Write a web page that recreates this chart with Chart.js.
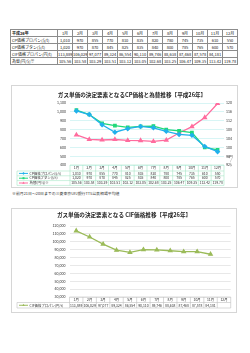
<!DOCTYPE html>
<html lang="ja">
<head>
<meta charset="UTF-8" />
<title>ガス単価の決定要素</title>
<style>
  body { margin: 0; width: 250px; height: 353px; background: #fff; position: relative; overflow: hidden; font-family: "Noto Sans CJK JP", sans-serif; }
  #top-table { position: absolute; left: 10px; top: 29px; width: 228px; border-collapse: collapse; table-layout: fixed; font-size: 4px; line-height: 4px; }
  #top-table td { border: 0.6px solid #8c8c8c; height: 6px; padding: 0; text-align: center; color: #222; white-space: nowrap; overflow: hidden; }
  #top-table td.lbl { text-align: left; padding-left: 1px; }
  #top-table td.head { font-weight: bold; }
  .box { position: absolute; border: 1px solid #d6d6d6; background: #fff; }
  .box canvas { position: absolute; left: 0; top: 0; }
  #note { position: absolute; left: 12px; top: 191px; font-size: 3.9px; line-height: 4px; color: #333; white-space: nowrap; }
</style>
</head>
<body>

<table id="top-table">
  <colgroup><col style="width:47px"></colgroup>
  <tbody></tbody>
</table>

<div class="box" style="left:11px; top:85px; width:225px; height:101px;">
  <canvas id="chart1" width="225" height="101"></canvas>
</div>
<div id="note">※前月21日～20日までの三菱東京UFJ銀行TTS公表相場平均値</div>
<div class="box" style="left:11px; top:208px; width:224px; height:103px;">
  <canvas id="chart2" width="224" height="103"></canvas>
</div>

<script src="https://cdn.jsdelivr.net/npm/chart.js"></script>
<script>
  // データ（平成26年）
  const months = ["1月", "2月", "3月", "4月", "5月", "6月", "7月", "8月", "9月", "10月", "11月", "12月"];
  const cpPropane = [1010, 970, 855, 770, 810, 835, 820, 780, 745, 735, 610, 550];
  const cpButane = [1020, 970, 870, 845, 825, 835, 840, 800, 785, 765, 600, 570];
  const exchangeRate = [105.56, 103.58, 103.29, 103.51, 103.12, 103.05, 102.68, 103.25, 106.47, 109.35, 113.42, 119.78];
  const cifPropane = [113889, 106029, 97077, 89324, 86554, 90110, 89746, 88638, 87468, 87578, 84181, null];

  const fmtInt = v => v == null ? "" : v.toLocaleString("en-US");
  const fmtRate = v => v == null ? "" : v.toFixed(2);

  // 上の表
  const topRows = [
    ["CP価格プロパン($/t)", cpPropane, fmtInt],
    ["CP価格ブタン($/t)", cpButane, fmtInt],
    ["CIF価格プロパン(円/t)", cifPropane, fmtInt],
    ["為替(円/$)※", exchangeRate, fmtRate]
  ];
  const tbody = document.querySelector("#top-table tbody");
  let html = '<tr><td class="lbl head">平成26年</td>' + months.map(m => `<td>${m}</td>`).join("") + "</tr>";
  topRows.forEach(r => {
    html += `<tr><td class="lbl">${r[0]}</td>` + r[1].map(v => `<td>${r[2](v)}</td>`).join("") + "</tr>";
  });
  tbody.innerHTML = html;

  Chart.defaults.font.family = '"Noto Sans CJK JP", sans-serif';
  Chart.defaults.font.size = 3.6;
  Chart.defaults.color = "#333";

  // タイトル
  const boxTitle = {
    id: "boxTitle",
    afterDraw(chart, args, o) {
      const ctx = chart.ctx;
      ctx.save();
      ctx.font = `bold ${o.size}px "Noto Sans CJK JP", sans-serif`;
      ctx.fillStyle = "#222";
      ctx.textAlign = "center";
      ctx.textBaseline = "middle";
      ctx.fillText(o.text, o.x, o.y);
      ctx.restore();
    }
  };

  // Excel風のデータテーブル
  const dataTable = {
    id: "dataTable",
    afterDraw(chart, args, o) {
      const ctx = chart.ctx, xs = chart.scales.x, a = chart.chartArea;
      const w = (a.right - a.left) / months.length;
      const top = a.bottom, hh = o.headerHeight, rh = o.rowHeight;
      const bottom = top + hh + rh * o.rows.length;
      ctx.save();
      ctx.strokeStyle = o.border;
      ctx.lineWidth = 0.6;
      ctx.beginPath();
      ctx.moveTo(a.left, top); ctx.lineTo(a.right, top);
      for (let r = 0; r <= o.rows.length; r++) {
        const y = top + hh + r * rh;
        ctx.moveTo(o.left, y); ctx.lineTo(a.right, y);
      }
      for (let i = 0; i <= months.length; i++) {
        const x = a.left + i * w;
        ctx.moveTo(x, top); ctx.lineTo(x, bottom);
      }
      ctx.moveTo(o.left, top + hh); ctx.lineTo(o.left, bottom);
      ctx.stroke();

      ctx.fillStyle = "#333";
      ctx.textAlign = "center";
      ctx.textBaseline = "middle";
      ctx.font = `${o.fontSize}px "Noto Sans CJK JP", sans-serif`;
      months.forEach((m, i) => ctx.fillText(m, xs.getPixelForValue(i), top + hh / 2));
      o.rows.forEach((row, r) => {
        const cy = top + hh + r * rh + rh / 2;
        row.values.forEach((v, i) => ctx.fillText(row.fmt(v), xs.getPixelForValue(i), cy));
        // 凡例
        ctx.save();
        ctx.strokeStyle = row.color;
        ctx.fillStyle = row.color;
        ctx.lineWidth = 1;
        ctx.beginPath();
        ctx.moveTo(o.left + 2, cy); ctx.lineTo(o.left + 11, cy);
        ctx.stroke();
        Chart.helpers.drawPoint(ctx, { pointStyle: row.pointStyle, radius: 1.4, rotation: 0 }, o.left + 6.5, cy);
        ctx.restore();
        ctx.textAlign = "left";
        ctx.fillText(row.label, o.left + 12.5, cy);
        ctx.textAlign = "center";
      });
      if (o.unit) {
        ctx.textAlign = "center";
        o.unit.text.split("").forEach((ch, i) => ctx.fillText(ch, o.unit.x, o.unit.y + i * 4));
      }
      ctx.restore();
    }
  };

  const propaneColor = "#21b1ec", butaneColor = "#1fd97a", rateColor = "#ff6c9e", cifColor = "#9bbb59";

  // グラフ1: CP価格と為替
  new Chart(document.getElementById("chart1"), {
    type: "line",
    data: {
      labels: months,
      datasets: [
        { label: "CP価格プロパン($/t)", data: cpPropane, yAxisID: "y", borderColor: propaneColor, backgroundColor: propaneColor, pointStyle: "rectRot", pointRadius: 1.8, borderWidth: 1.3 },
        { label: "CP価格ブタン($/t)", data: cpButane, yAxisID: "y", borderColor: butaneColor, backgroundColor: butaneColor, pointStyle: "rect", pointRadius: 1.7, borderWidth: 1.3 },
        { label: "為替(円/$)※", data: exchangeRate, yAxisID: "y2", borderColor: rateColor, backgroundColor: rateColor, pointStyle: "triangle", pointRadius: 1.9, borderWidth: 1.3 }
      ]
    },
    options: {
      responsive: false,
      animation: false,
      devicePixelRatio: 1,
      layout: { padding: { top: 17, left: 0, right: 0, bottom: 0 } },
      plugins: {
        legend: { display: false },
        tooltip: { enabled: false },
        boxTitle: { text: "ガス単価の決定要素となるCP価格と為替推移【平成26年】", x: 120, y: 9, size: 5.6 },
        dataTable: {
          left: 5, headerHeight: 6, rowHeight: 4.8, fontSize: 3.4, border: "#a8e6c8",
          rows: [
            { label: "CP価格プロパン($/t)", values: cpPropane, fmt: fmtInt, color: propaneColor, pointStyle: "rectRot" },
            { label: "CP価格ブタン($/t)", values: cpButane, fmt: fmtInt, color: butaneColor, pointStyle: "rect" },
            { label: "為替(円/$)※", values: exchangeRate, fmt: fmtRate, color: rateColor, pointStyle: "triangle" }
          ],
          unit: { text: "円/$", x: 219, y: 71 }
        }
      },
      scales: {
        x: { offset: true, grid: { display: false }, ticks: { display: false }, border: { display: false }, afterFit(s) { s.height = 22; } },
        y: {
          position: "left", min: 400, max: 1100,
          ticks: { stepSize: 100, padding: 4, callback: v => v.toLocaleString("en-US") },
          grid: { color: "#bdeeee", lineWidth: 0.6, drawTicks: false },
          border: { display: false },
          afterFit(s) { s.width = 58; }
        },
        y2: {
          position: "right", min: 92, max: 120,
          ticks: { stepSize: 2, padding: 2 },
          grid: { display: false, drawTicks: false },
          border: { display: false },
          afterFit(s) { s.width = 13; }
        }
      }
    },
    plugins: [boxTitle, dataTable]
  });

  // グラフ2: CIF価格
  new Chart(document.getElementById("chart2"), {
    type: "line",
    data: {
      labels: months,
      datasets: [
        { label: "CIF価格プロパン(円/t)", data: cifPropane, borderColor: cifColor, backgroundColor: cifColor, pointStyle: "triangle", pointRadius: 1.9, borderWidth: 1.3 }
      ]
    },
    options: {
      responsive: false,
      animation: false,
      devicePixelRatio: 1,
      layout: { padding: { top: 17, left: 0, right: 4.5, bottom: 0 } },
      plugins: {
        legend: { display: false },
        tooltip: { enabled: false },
        boxTitle: { text: "ガス単価の決定要素となる CIF価格推移【平成26年】", x: 112, y: 6, size: 5.6 },
        dataTable: {
          left: 5, headerHeight: 5.5, rowHeight: 5.5, fontSize: 3.4, border: "#bfbfbf",
          rows: [
            { label: "CIF価格プロパン(円/t)", values: cifPropane, fmt: fmtInt, color: cifColor, pointStyle: "triangle" }
          ]
        }
      },
      scales: {
        x: { offset: true, grid: { display: false }, ticks: { display: false }, border: { display: false }, afterFit(s) { s.height = 15; } },
        y: {
          min: 30000, max: 120000,
          ticks: { stepSize: 10000, padding: 4, callback: v => v.toLocaleString("en-US") },
          grid: { color: "#d9d9d9", lineWidth: 0.6, drawTicks: false },
          border: { display: false },
          afterFit(s) { s.width = 57.5; }
        }
      }
    },
    plugins: [boxTitle, dataTable]
  });
</script>

</body>
</html>
